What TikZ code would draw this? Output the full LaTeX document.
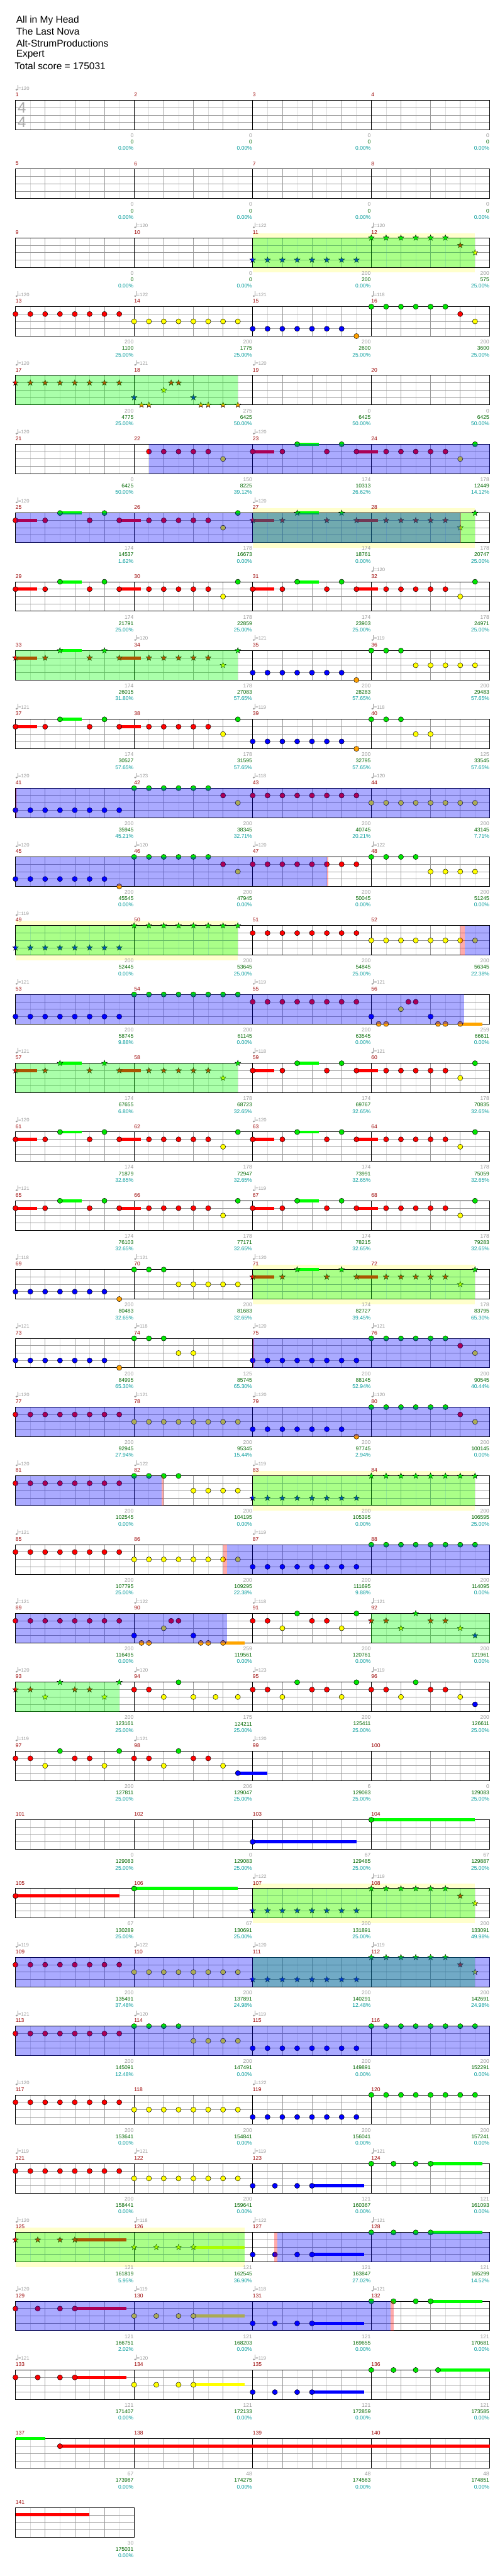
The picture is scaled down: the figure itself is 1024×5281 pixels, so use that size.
\documentclass[tikz,border=0pt]{standalone}
\usepackage{fontspec}
\setmainfont{Liberation Sans}
\usetikzlibrary{shapes.geometric}

\definecolor{lane0}{RGB}{0,230,0}
\definecolor{lane1}{RGB}{255,0,0}
\definecolor{lane2}{RGB}{255,255,0}
\definecolor{lane3}{RGB}{0,0,255}
\definecolor{lane4}{RGB}{255,160,0}
\definecolor{hold0}{RGB}{0,255,0}
\definecolor{hold1}{RGB}{255,0,0}
\definecolor{hold2}{RGB}{255,255,0}
\definecolor{hold3}{RGB}{0,0,255}
\definecolor{hold4}{RGB}{255,165,0}
\definecolor{barred}{RGB}{153,0,0}
\definecolor{midgray}{RGB}{153,153,153}
\definecolor{gridlight}{RGB}{221,221,221}
\definecolor{siggray}{RGB}{170,170,170}
\definecolor{totalgreen}{RGB}{0,102,0}
\definecolor{pctteal}{RGB}{0,153,153}
\definecolor{paleyellow}{RGB}{255,255,204}

% geometry (1 unit = 1 px of the chart)
\newcommand{\xL}{31.75}
\newcommand{\eW}{30.39}
\newcommand{\topY}{205.7}
\newcommand{\rowH}{141}
\newcommand{\laneH}{15.1}

% staff grid and bar numbers: row, first bar, bars
\newcommand{\staffrow}[3]{%
  \pgfmathsetmacro\rowT{\topY+#1*\rowH}%
  \pgfmathsetmacro\rowB{\rowT+4*\laneH}%
  \pgfmathsetmacro\rowR{\xL+#3*8*\eW}%
  \pgfmathtruncatemacro\lastE{#3*8-1}%
  \pgfmathtruncatemacro\lastQ{#3*8-2}%
  \foreach \ix in {1,3,...,\lastE}
    {\draw[eighthline] ({\xL+\ix*\eW},\rowT) -- ({\xL+\ix*\eW},\rowB);}
  \foreach \ix in {2,4,...,\lastQ}
    {\draw[quarterline] ({\xL+\ix*\eW},\rowT) -- ({\xL+\ix*\eW},\rowB);}
  \foreach \lk in {1,2,3}
    {\draw[laneline] (\xL,{\rowT+\lk*\laneH}) -- (\rowR,{\rowT+\lk*\laneH});}
  \ifnum#3>1
    \pgfmathtruncatemacro\lastM{#3-1}%
    \foreach \mi in {1,...,\lastM}
      {\draw[barline] ({\xL+\mi*8*\eW},\rowT) -- ({\xL+\mi*8*\eW},\rowB);}
  \fi
  \draw[staffframe] (\xL,\rowT) rectangle (\rowR,\rowB);
  \foreach \mi in {1,...,#3}
    {\pgfmathtruncatemacro\mn{#2+\mi-1}%
     \node[barnum] at ({\xL+(\mi-1)*8*\eW},{\rowT-11.4}) {\mn};}
}

% notes: [offset] row, lane, kind, positions (in eighths)
\newcommand{\gem}[5][0]{%
  \pgfmathsetmacro\gemY{\topY+#2*\rowH+#3*\laneH}%
  \foreach \pos in {#5}
    {\node[#4, fill=lane#3] at ({\xL+(#1+\pos)*\eW},\gemY) {};}
}

% sustain bar: [offset] row, lane, from, to
\newcommand{\holdbar}[5][0]{%
  \pgfmathsetmacro\gemY{\topY+#2*\rowH+#3*\laneH}%
  \fill[hold#3] ({\xL+(#1+#4)*\eW},{\gemY-3.2}) rectangle ({\xL+(#1+#5)*\eW},{\gemY+3.2});
}

% shaded span over the staff: style, row, from, to
\newcommand{\zone}[4]{%
  \pgfmathsetmacro\rowT{\topY+#2*\rowH}%
  \fill[#1] ({\xL+#3*\eW},\rowT) rectangle ({\xL+#4*\eW},{\rowT+4*\laneH});
}

% pale band behind a star phrase: row, from, to
\newcommand{\palezone}[3]{%
  \pgfmathsetmacro\rowT{\topY+#1*\rowH}%
  \fill[paleyellow] ({\xL+#2*\eW},{\rowT-10}) rectangle ({\xL+#3*\eW},{\rowT+70.8});
}

% tempo marks: row, list of bar/bpm
\newcommand{\tempomarks}[2]{%
  \pgfmathsetmacro\rowT{\topY+#1*\rowH}%
  \foreach \idx/\bpm in {#2}
    {\pgfmathsetmacro\tx{\xL+\idx*8*\eW}%
     \fill[midgray] ({\tx+2.3},{\rowT-21.7}) ellipse (2.3 and 1.7);
     \draw[midgray, line width=0.6] ({\tx+4.3},{\rowT-21.7}) -- ({\tx+4.3},{\rowT-31.4});
     \node[tempotext] at ({\tx+5.6},{\rowT-24.7}) {=\bpm};}
}

% score lines under each bar: row, list of gain/total/percent
\newcommand{\scorelabels}[2]{%
  \pgfmathsetmacro\rowT{\topY+#1*\rowH}%
  \foreach \ga/\tot/\pc [count=\idx] in {#2}
    {\pgfmathsetmacro\labx{\xL+\idx*8*\eW-1}%
     \node[gainlbl] at (\labx,{\rowT+72.3}) {\ga};
     \node[totallbl] at (\labx,{\rowT+85.3}) {\tot};
     \node[pctlbl] at (\labx,{\rowT+98.6}) {\pc\%};}
}

% two-bar riff: row, offset, kind
\newcommand{\riff}[3]{%
  \holdbar[#2]{#1}{1}{0}{1.47}\holdbar[#2]{#1}{0}{3}{4.48}\holdbar[#2]{#1}{1}{7}{8.47}%
  \gem[#2]{#1}{1}{#3}{0,2,5,7,9,10,11,12,13}%
  \gem[#2]{#1}{0}{#3}{3,6,15}%
  \gem[#2]{#1}{2}{#3}{14}%
}

% four hits ending in a sustain: row, lane, offset, kind, hold end
\newcommand{\fourhit}[5]{%
  \holdbar[#3]{#1}{#2}{4}{#5}%
  \gem[#3]{#1}{#2}{#4}{0,1.5,3,4}%
}

\begin{document}
\begin{tikzpicture}[x=1pt, y=-1pt,
    eighthline/.style={gridlight, line width=0.8},
    quarterline/.style={midgray, line width=0.9},
    barline/.style={black, line width=0.9},
    laneline/.style={midgray, line width=1.1},
    staffframe/.style={black, line width=1.3},
    circnote/.style={circle, draw=black, line width=0.6, minimum size=10.6, inner sep=0pt},
    starnote/.style={star, star points=5, star point ratio=2.4, draw=black, line width=0.5, minimum size=12.5, inner sep=0pt},
    greenzone/.style={fill=hold0, fill opacity=0.333},
    bluezone/.style={fill=blue, fill opacity=0.333},
    pinkzone/.style={fill=red, fill opacity=0.333},
    redmark/.style={fill=red},
    titletext/.style={anchor=west, inner sep=0pt, font=\fontsize{20}{24}\selectfont},
    timesig/.style={inner sep=0pt, text=siggray, font=\fontsize{31}{31}\selectfont},
    barnum/.style={anchor=west, inner sep=0pt, text=barred, font=\fontsize{11}{13}\selectfont},
    tempotext/.style={anchor=west, inner sep=0pt, text=midgray, font=\fontsize{10}{12}\selectfont},
    gainlbl/.style={anchor=east, inner sep=0pt, text=midgray, font=\fontsize{11}{13}\selectfont},
    totallbl/.style={anchor=east, inner sep=0pt, text=totalgreen, font=\fontsize{11}{13}\selectfont},
    pctlbl/.style={anchor=east, inner sep=0pt, text=pctteal, font=\fontsize{11}{13}\selectfont}
]
\useasboundingbox (0,0) rectangle (1024,5281);

% Header
\node[titletext] (song) at (33,41.7) {All in My Head};
\node[titletext] (artist) at (33,65) {The Last Nova};
\node[titletext] (charter) at (33,88.3) {Alt-StrumProductions};
\node[titletext] (level) at (33,111.7) {Expert};
\node[titletext] (total) at (30,135) {Total score = 175031};

% Row 0: bars 1-4
\staffrow{0}{1}{4}
\node[timesig] (sigtop) at (45,{\topY+15.3}) {4};
\node[timesig] (sigbot) at (45,{\topY+45}) {4};
\tempomarks{0}{0/120}
\scorelabels{0}{0/0/0.00, 0/0/0.00, 0/0/0.00, 0/0/0.00}

% Row 1: bars 5-8
\staffrow{1}{5}{4}
\scorelabels{1}{0/0/0.00, 0/0/0.00, 0/0/0.00, 0/0/0.00}

% Row 2: bars 9-12
\palezone{2}{16}{31}
\staffrow{2}{9}{4}
\gem{2}{3}{starnote}{16,...,23}
\gem{2}{0}{starnote}{24,...,29}
\gem{2}{1}{starnote}{30}
\gem{2}{2}{starnote}{31}
\zone{greenzone}{2}{16}{31}
\tempomarks{2}{1/120, 2/122, 3/120}
\scorelabels{2}{0/0/0.00, 0/0/0.00, 200/200/0.00, 200/575/25.00}

% Row 3: bars 13-16
\staffrow{3}{13}{4}
\gem{3}{1}{circnote}{0,...,7}
\gem{3}{2}{circnote}{8,...,15}
\gem{3}{3}{circnote}{16,...,22}
\gem{3}{4}{circnote}{23}
\gem{3}{0}{circnote}{24,...,29}
\gem{3}{1}{circnote}{30}
\gem{3}{2}{circnote}{31}
\tempomarks{3}{0/120, 1/122, 2/121, 3/118}
\scorelabels{3}{200/1100/25.00, 200/1775/25.00, 200/2600/25.00, 200/3600/25.00}

% Row 4: bars 17-20
\staffrow{4}{17}{4}
\gem{4}{1}{starnote}{0,...,7}
\gem{4}{3}{starnote}{8,12}
\gem{4}{4}{starnote}{8.5,9,12.5,13,14,15}
\gem{4}{2}{starnote}{10}
\gem{4}{1}{starnote}{10.5,11}
\zone{greenzone}{4}{0}{15}
\tempomarks{4}{0/120, 1/121, 2/120}
\scorelabels{4}{200/4775/25.00, 275/6425/50.00, 0/6425/50.00, 0/6425/50.00}

% Row 5: bars 21-24
\staffrow{5}{21}{4}
\gem{5}{1}{circnote}{9,...,13}
\gem{5}{2}{circnote}{14}
\riff{5}{16}{circnote}
\zone{bluezone}{5}{9}{32}
\tempomarks{5}{0/120, 2/120}
\scorelabels{5}{0/6425/50.00, 150/8225/39.12, 174/10313/26.62, 178/12449/14.12}

% Row 6: bars 25-28
\palezone{6}{16}{31}
\staffrow{6}{25}{4}
\riff{6}{0}{circnote}
\riff{6}{16}{starnote}
\zone{greenzone}{6}{16}{31}
\zone{bluezone}{6}{0}{30}
\zone{pinkzone}{6}{30}{30.06}
\tempomarks{6}{0/120, 2/120}
\scorelabels{6}{174/14537/1.62, 178/16673/0.00, 174/18761/0.00, 178/20747/25.00}

% Row 7: bars 29-32
\staffrow{7}{29}{4}
\riff{7}{0}{circnote}
\riff{7}{16}{circnote}
\tempomarks{7}{3/120}
\scorelabels{7}{174/21791/25.00, 178/22859/25.00, 174/23903/25.00, 178/24971/25.00}

% Row 8: bars 33-36
\staffrow{8}{33}{4}
\riff{8}{0}{starnote}
\gem{8}{3}{circnote}{16,...,22}
\gem{8}{4}{circnote}{23}
\gem{8}{0}{circnote}{24,25,26}
\gem{8}{2}{circnote}{27,...,31}
\zone{greenzone}{8}{0}{15}
\tempomarks{8}{1/120, 2/121, 3/119}
\scorelabels{8}{174/26015/31.80, 178/27083/57.65, 200/28283/57.65, 200/29483/57.65}

% Row 9: bars 37-40
\staffrow{9}{37}{4}
\riff{9}{0}{circnote}
\gem{9}{3}{circnote}{16,...,22}
\gem{9}{4}{circnote}{23}
\gem{9}{0}{circnote}{24,25,26}
\gem{9}{2}{circnote}{27,28}
\tempomarks{9}{0/121, 2/119, 3/118}
\scorelabels{9}{174/30527/57.65, 178/31595/57.65, 200/32795/57.65, 125/33545/57.65}

% Row 10: bars 41-44
\staffrow{10}{41}{4}
\gem{10}{3}{circnote}{0,...,7}
\gem{10}{0}{circnote}{8,...,13}
\gem{10}{1}{circnote}{14}
\gem{10}{2}{circnote}{15}
\gem{10}{1}{circnote}{16,...,23}
\gem{10}{2}{circnote}{24,...,31}
\zone{redmark}{10}{0}{0.04}
\zone{bluezone}{10}{0}{32}
\tempomarks{10}{0/120, 1/123, 2/118, 3/120}
\scorelabels{10}{200/35945/45.21, 200/38345/32.71, 200/40745/20.21, 200/43145/7.71}

% Row 11: bars 45-48
\staffrow{11}{45}{4}
\gem{11}{3}{circnote}{0,...,6}
\gem{11}{4}{circnote}{7}
\gem{11}{0}{circnote}{8,...,13}
\gem{11}{1}{circnote}{14}
\gem{11}{2}{circnote}{15}
\gem{11}{1}{circnote}{16,...,23}
\gem{11}{0}{circnote}{24,...,27}
\gem{11}{2}{circnote}{28,...,31}
\zone{bluezone}{11}{0}{21}
\zone{pinkzone}{11}{21}{21.08}
\tempomarks{11}{0/120, 1/120, 2/120, 3/122}
\scorelabels{11}{200/45545/0.00, 200/47945/0.00, 200/50045/0.00, 200/51245/0.00}

% Row 12: bars 49-52
\palezone{12}{0}{15}
\staffrow{12}{49}{4}
\gem{12}{3}{starnote}{0,...,7}
\gem{12}{0}{starnote}{8,...,15}
\gem{12}{1}{circnote}{16,...,23}
\gem{12}{2}{circnote}{24,...,31}
\zone{greenzone}{12}{0}{15}
\zone{pinkzone}{12}{30}{30.3}
\zone{bluezone}{12}{30.3}{32}
\tempomarks{12}{0/119}
\scorelabels{12}{200/52445/0.00, 200/53645/25.00, 200/54845/25.00, 200/56345/22.38}

% Row 13: bars 53-56
\staffrow{13}{53}{4}
\gem{13}{3}{circnote}{0,...,7}
\gem{13}{0}{circnote}{8,...,15}
\gem{13}{1}{circnote}{16,...,23}
\gem{13}{3}{circnote}{24,28}
\gem{13}{4}{circnote}{24.5,25,28.5,29}
\gem{13}{2}{circnote}{26}
\gem{13}{1}{circnote}{26.5,27}
\holdbar{13}{4}{30}{31.48}
\gem{13}{4}{circnote}{30}
\zone{bluezone}{13}{0}{30.26}
\tempomarks{13}{0/121, 2/119, 3/121}
\scorelabels{13}{200/58745/9.88, 200/61145/0.00, 200/63545/0.00, 259/66611/0.00}

% Row 14: bars 57-60
\staffrow{14}{57}{4}
\riff{14}{0}{starnote}
\riff{14}{16}{circnote}
\zone{greenzone}{14}{0}{15}
\tempomarks{14}{0/121, 2/118, 3/121}
\scorelabels{14}{174/67655/6.80, 178/68723/32.65, 174/69767/32.65, 178/70835/32.65}

% Row 15: bars 61-64
\staffrow{15}{61}{4}
\riff{15}{0}{circnote}
\riff{15}{16}{circnote}
\tempomarks{15}{0/120, 2/120}
\scorelabels{15}{174/71879/32.65, 178/72947/32.65, 174/73991/32.65, 178/75059/32.65}

% Row 16: bars 65-68
\staffrow{16}{65}{4}
\riff{16}{0}{circnote}
\riff{16}{16}{circnote}
\tempomarks{16}{0/121, 2/119}
\scorelabels{16}{174/76103/32.65, 178/77171/32.65, 174/78215/32.65, 178/79283/32.65}

% Row 17: bars 69-72
\palezone{17}{16}{31}
\staffrow{17}{69}{4}
\gem{17}{3}{circnote}{0,...,6}
\gem{17}{4}{circnote}{7}
\gem{17}{0}{circnote}{8,9,10}
\gem{17}{2}{circnote}{11,...,15}
\riff{17}{16}{starnote}
\zone{greenzone}{17}{16}{31}
\tempomarks{17}{0/118, 1/121, 2/120}
\scorelabels{17}{200/80483/32.65, 200/81683/32.65, 174/82727/39.45, 178/83795/65.30}

% Row 18: bars 73-76
\staffrow{18}{73}{4}
\gem{18}{3}{circnote}{0,...,6}
\gem{18}{4}{circnote}{7}
\gem{18}{0}{circnote}{8,9,10}
\gem{18}{2}{circnote}{11,12}
\gem{18}{3}{circnote}{16,...,23}
\gem{18}{0}{circnote}{24,...,29}
\gem{18}{1}{circnote}{30}
\gem{18}{2}{circnote}{31}
\zone{redmark}{18}{16}{16.04}
\zone{bluezone}{18}{16}{32}
\tempomarks{18}{0/121, 1/118, 2/120, 3/121}
\scorelabels{18}{200/84995/65.30, 125/85745/65.30, 200/88145/52.94, 200/90545/40.44}

% Row 19: bars 77-80
\staffrow{19}{77}{4}
\gem{19}{1}{circnote}{0,...,7}
\gem{19}{2}{circnote}{8,...,15}
\gem{19}{3}{circnote}{16,...,22}
\gem{19}{4}{circnote}{23}
\gem{19}{0}{circnote}{24,...,29}
\gem{19}{1}{circnote}{30}
\gem{19}{2}{circnote}{31}
\zone{bluezone}{19}{0}{32}
\tempomarks{19}{0/120, 1/121, 2/120, 3/120}
\scorelabels{19}{200/92945/27.94, 200/95345/15.44, 200/97745/2.94, 200/100145/0.00}

% Row 20: bars 81-84
\palezone{20}{16}{31}
\staffrow{20}{81}{4}
\gem{20}{1}{circnote}{0,...,7}
\gem{20}{0}{circnote}{8,...,11}
\gem{20}{2}{circnote}{12,...,15}
\gem{20}{3}{starnote}{16,...,23}
\gem{20}{0}{starnote}{24,...,31}
\zone{greenzone}{20}{16}{31}
\zone{bluezone}{20}{0}{9.84}
\zone{pinkzone}{20}{9.84}{10}
\tempomarks{20}{0/120, 1/122, 2/119}
\scorelabels{20}{200/102545/0.00, 200/104195/0.00, 200/105395/0.00, 200/106595/25.00}

% Row 21: bars 85-88
\staffrow{21}{85}{4}
\gem{21}{1}{circnote}{0,...,7}
\gem{21}{2}{circnote}{8,...,15}
\gem{21}{3}{circnote}{16,...,23}
\gem{21}{0}{circnote}{24,...,31}
\zone{pinkzone}{21}{14}{14.26}
\zone{bluezone}{21}{14.26}{32}
\tempomarks{21}{0/121, 2/119}
\scorelabels{21}{200/107795/25.00, 200/109295/22.38, 200/111695/9.88, 200/114095/0.00}

% Row 22: bars 89-92
\staffrow{22}{89}{4}
\gem{22}{1}{circnote}{0,...,7}
\gem{22}{3}{circnote}{8,12}
\gem{22}{4}{circnote}{8.5,9,12.5,13}
\gem{22}{2}{circnote}{10,18,22}
\gem{22}{1}{circnote}{10.5,11,16,17,20,21}
\holdbar{22}{4}{14}{15.45}
\gem{22}{4}{circnote}{14}
\gem{22}{0}{circnote}{19,23}
\gem{22}{1}{starnote}{24,25,28,29}
\gem{22}{2}{starnote}{26,30}
\gem{22}{0}{starnote}{27}
\gem{22}{3}{starnote}{31}
\zone{greenzone}{22}{24}{32}
\zone{bluezone}{22}{0}{14.26}
\tempomarks{22}{0/121, 1/122, 2/118, 3/121}
\scorelabels{22}{200/116495/0.00, 259/119561/0.00, 200/120761/0.00, 200/121961/0.00}

% Row 23: bars 93-96
\staffrow{23}{93}{4}
\gem{23}{1}{starnote}{0,1,4,5}
\gem{23}{2}{starnote}{2,6}
\gem{23}{0}{starnote}{3,7}
\gem{23}{1}{circnote}{8,9,16,17,20,21,24,25,28,29}
\gem{23}{2}{circnote}{10,12,13.5,15,18,22,26,30}
\gem{23}{0}{circnote}{11,19,23,27}
\gem{23}{3}{circnote}{31}
\zone{greenzone}{23}{0}{7}
\tempomarks{23}{0/120, 1/120, 2/123, 3/119}
\scorelabels{23}{200/123161/25.00, 175/124211/25.00, 200/125411/25.00, 200/126611/25.00}

% Row 24: bars 97-100
\staffrow{24}{97}{4}
\gem{24}{1}{circnote}{0,1,4,5,8,9,12,13}
\gem{24}{2}{circnote}{2,6,10,14}
\gem{24}{0}{circnote}{3,7,11}
\holdbar{24}{3}{15}{17}
\gem{24}{3}{circnote}{15}
\tempomarks{24}{0/119, 1/121, 2/120}
\scorelabels{24}{200/127811/25.00, 206/129047/25.00, 6/129083/25.00, 0/129083/25.00}

% Row 25: bars 101-104
\staffrow{25}{101}{4}
\holdbar{25}{3}{16}{23}
\gem{25}{3}{circnote}{16}
\holdbar{25}{0}{24}{31}
\gem{25}{0}{circnote}{24}
\scorelabels{25}{0/129083/25.00, 0/129083/25.00, 67/129485/25.00, 67/129887/25.00}

% Row 26: bars 105-108
\palezone{26}{16}{31}
\staffrow{26}{105}{4}
\holdbar{26}{1}{0}{7}
\gem{26}{1}{circnote}{0}
\holdbar{26}{0}{8}{15}
\gem{26}{0}{circnote}{8}
\gem{26}{3}{starnote}{16,...,23}
\gem{26}{0}{starnote}{24,...,29}
\gem{26}{1}{starnote}{30}
\gem{26}{2}{starnote}{31}
\zone{greenzone}{26}{16}{31}
\tempomarks{26}{2/122, 3/119}
\scorelabels{26}{67/130289/25.00, 67/130691/25.00, 200/131891/25.00, 200/133091/49.98}

% Row 27: bars 109-112
\staffrow{27}{109}{4}
\gem{27}{1}{circnote}{0,...,7}
\gem{27}{2}{circnote}{8,...,15}
\gem{27}{3}{starnote}{16,...,23}
\gem{27}{0}{starnote}{24,...,29}
\gem{27}{1}{starnote}{30}
\gem{27}{2}{starnote}{31}
\zone{greenzone}{27}{16}{31}
\zone{bluezone}{27}{0}{32}
\tempomarks{27}{0/119, 1/122, 2/120, 3/119}
\scorelabels{27}{200/135491/37.48, 200/137891/24.98, 200/140291/12.48, 200/142691/24.98}

% Row 28: bars 113-116
\staffrow{28}{113}{4}
\gem{28}{1}{circnote}{0,...,7}
\gem{28}{0}{circnote}{8,...,11}
\gem{28}{2}{circnote}{12,...,15}
\gem{28}{3}{circnote}{16,...,23}
\gem{28}{0}{circnote}{24,...,31}
\zone{bluezone}{28}{0}{32}
\tempomarks{28}{0/121, 1/120, 2/119}
\scorelabels{28}{200/145091/12.48, 200/147491/0.00, 200/149891/0.00, 200/152291/0.00}

% Row 29: bars 117-120
\staffrow{29}{117}{4}
\gem{29}{1}{circnote}{0,...,7}
\gem{29}{2}{circnote}{8,...,15}
\gem{29}{3}{circnote}{16,...,23}
\gem{29}{0}{circnote}{24,...,31}
\tempomarks{29}{0/120, 2/122}
\scorelabels{29}{200/153641/0.00, 200/154841/0.00, 200/156041/0.00, 200/157241/0.00}

% Row 30: bars 121-124
\staffrow{30}{121}{4}
\gem{30}{1}{circnote}{0,...,7}
\gem{30}{2}{circnote}{8,...,15}
\fourhit{30}{3}{16}{circnote}{7.5}
\fourhit{30}{0}{24}{circnote}{7.48}
\tempomarks{30}{0/119, 1/121, 2/119, 3/121}
\scorelabels{30}{200/158441/0.00, 200/159641/0.00, 121/160367/0.00, 121/161093/0.00}

% Row 31: bars 125-128
\palezone{31}{0}{15.45}
\staffrow{31}{125}{4}
\fourhit{31}{1}{0}{starnote}{7.49}
\fourhit{31}{2}{8}{starnote}{7.45}
\fourhit{31}{3}{16}{circnote}{7.5}
\fourhit{31}{0}{24}{circnote}{7.48}
\zone{greenzone}{31}{0}{15.45}
\zone{pinkzone}{31}{17.45}{17.67}
\zone{bluezone}{31}{17.67}{32}
\tempomarks{31}{0/120, 1/118, 2/122, 3/121}
\scorelabels{31}{121/161819/5.95, 121/162545/36.90, 121/163847/27.02, 121/165299/14.52}

% Row 32: bars 129-132
\staffrow{32}{129}{4}
\fourhit{32}{1}{0}{circnote}{7.49}
\fourhit{32}{2}{8}{circnote}{7.45}
\fourhit{32}{3}{16}{circnote}{7.5}
\fourhit{32}{0}{24}{circnote}{7.48}
\zone{bluezone}{32}{0}{25.3}
\zone{pinkzone}{32}{25.3}{25.5}
\tempomarks{32}{0/120, 1/119, 2/118, 3/121}
\scorelabels{32}{121/166751/2.02, 121/168203/0.00, 121/169655/0.00, 121/170681/0.00}

% Row 33: bars 133-136
\staffrow{33}{133}{4}
\fourhit{33}{1}{0}{circnote}{7.49}
\fourhit{33}{2}{8}{circnote}{7.45}
\fourhit{33}{3}{16}{circnote}{7.5}
\holdbar{33}{0}{28.5}{32}
\gem{33}{0}{circnote}{24,25.5,27,28.5}
\tempomarks{33}{0/121, 1/120, 2/119}
\scorelabels{33}{121/171407/0.00, 121/172133/0.00, 121/172859/0.00, 121/173585/0.00}

% Row 34: bars 137-140
\staffrow{34}{137}{4}
\holdbar{34}{0}{0}{2}
\holdbar{34}{1}{3}{32}
\gem{34}{1}{circnote}{3}
\scorelabels{34}{67/173987/0.00, 48/174275/0.00, 48/174563/0.00, 48/174851/0.00}

% Row 35: bar 141
\staffrow{35}{141}{1}
\holdbar{35}{1}{0}{5}
\scorelabels{35}{30/175031/0.00}

\end{tikzpicture}
\end{document}
